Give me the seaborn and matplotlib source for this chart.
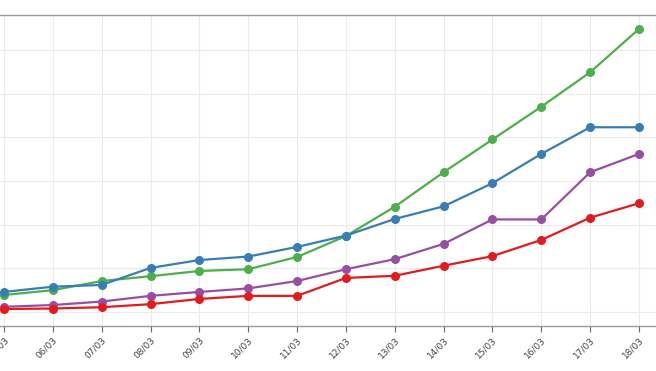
import pandas as pd
import seaborn as sns
import matplotlib.pyplot as plt

# dates shown on the x axis
dates = ["05/03", "06/03", "07/03", "08/03", "09/03", "10/03", "11/03",
         "12/03", "13/03", "14/03", "15/03", "16/03", "17/03", "18/03"]

# values (one grid step = 10)
green = [3.9, 5.0, 7.1, 8.2, 9.4, 9.8, 12.6, 17.4, 24.1, 32.0, 39.5, 47.0, 54.9, 64.8]
blue = [4.6, 5.8, 6.2, 10.1, 11.9, 12.7, 14.9, 17.5, 21.3, 24.2, 29.5, 36.2, 42.3, 42.3]
purple = [1.2, 1.6, 2.4, 3.7, 4.6, 5.4, 7.1, 9.8, 12.1, 15.6, 21.2, 21.2, 32.0, 36.2]
red = [0.7, 0.8, 1.1, 1.8, 3.0, 3.7, 3.7, 7.8, 8.3, 10.6, 12.8, 16.5, 21.6, 24.9]

series = {"green": green, "blue": blue, "purple": purple, "red": red}
colors = {"green": "#4daf4a", "blue": "#377eb8", "purple": "#984ea3", "red": "#e41a1c"}

df = pd.DataFrame([
    {"day": i, "date": d, "series": name, "value": vals[i]}
    for name, vals in series.items()
    for i, d in enumerate(dates)
])

sns.set_style("whitegrid")
plt.rcParams['font.family'] = ['DejaVu Sans']

fig = plt.figure(figsize=(6.56, 3.71), dpi=100)
# axes spans the whole width; the left part of the chart is cropped off
ax = fig.add_axes([0, 45 / 371, 1, 311 / 371])

sns.lineplot(data=df, x="day", y="value", hue="series", palette=colors,
             marker="o", markersize=6.5, markeredgewidth=0, linewidth=1.6,
             legend=False, ax=ax, zorder=3)

ax.set_xlim(-4 / 48.85, 13 + 17 / 48.85)
ax.set_ylim(-3.2, 68.0)
ax.set_yticks(range(0, 70, 10))
ax.set_yticklabels([])
ax.set_xticks(range(len(dates)))
ax.set_xticklabels(dates, rotation=45, ha="right", rotation_mode="anchor",
                   fontsize=6.5, color="#444444")
ax.set_xlabel("")
ax.set_ylabel("")
ax.grid(True, color="#ebebeb", linewidth=0.8)

for side in ["left", "right"]:
    ax.spines[side].set_visible(False)
for side in ["top", "bottom"]:
    ax.spines[side].set_visible(True)
    ax.spines[side].set_color("#999999")
    ax.spines[side].set_linewidth(1.0)
ax.tick_params(axis="x", length=4, width=0.8, color="#666666", pad=3, bottom=True)
ax.tick_params(axis="y", length=0)

fig.savefig("out.png", dpi=100)
